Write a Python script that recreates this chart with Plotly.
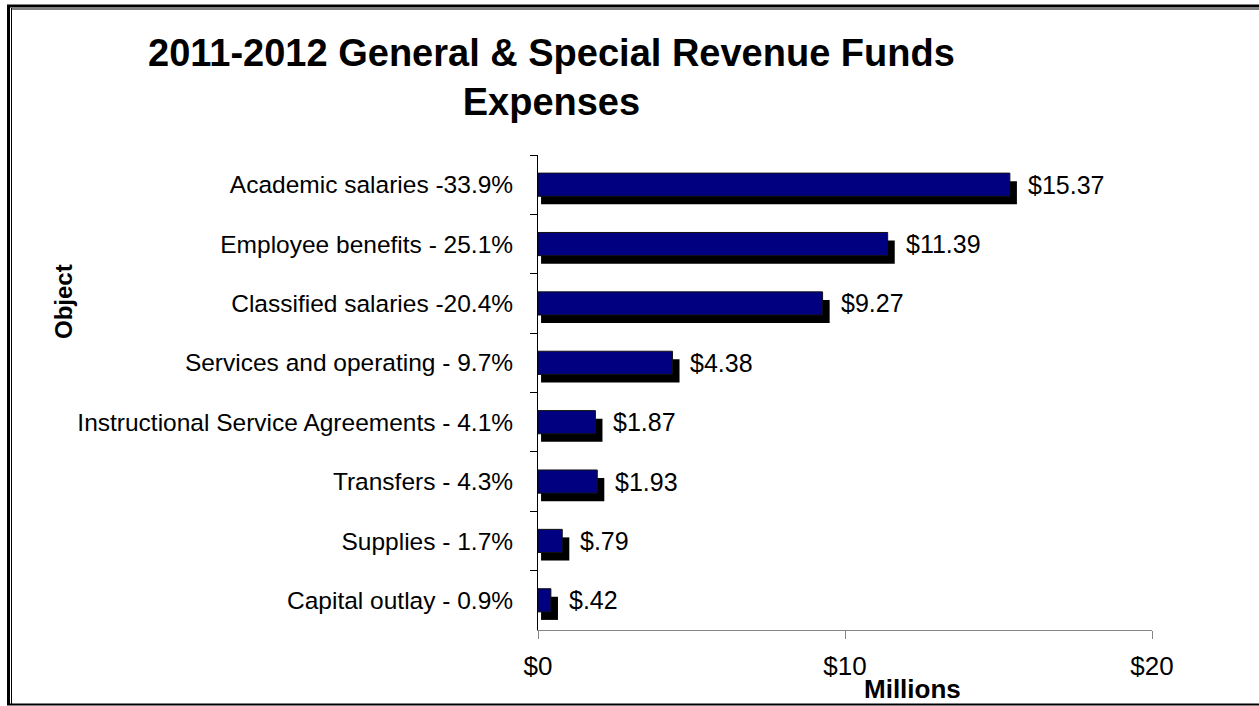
import plotly.graph_objects as go

categories = [
    "Academic salaries -33.9%",
    "Employee benefits - 25.1%",
    "Classified salaries -20.4%",
    "Services and operating - 9.7%",
    "Instructional Service Agreements - 4.1%",
    "Transfers - 4.3%",
    "Supplies - 1.7%",
    "Capital outlay - 0.9%",
]
values = [15.37, 11.39, 9.27, 4.38, 1.87, 1.93, 0.79, 0.42]
value_labels = ["$15.37", "$11.39", "$9.27", "$4.38", "$1.87", "$1.93", "$.79", "$.42"]
tick_vals = [0, 10, 20]
tick_text = ["$0", "$10", "$20"]

W, H = 1259, 706
L, R, T, B = 538, 107, 155, 76
PW, PH = W - L - R, H - T - B

def px(x):
    return (x - L) / PW

def py(y):
    return (H - B - y) / PH

FONT = "Liberation Sans, Arial, sans-serif"
BW = 0.39

fig = go.Figure()
# shadow
fig.add_trace(go.Bar(
    y=categories, x=[v + 0.13 for v in values], base=0.1, orientation="h",
    width=BW, offset=-BW / 2 + 0.135,
    marker=dict(color="black", line=dict(color="black", width=0)),
    hoverinfo="skip", showlegend=False,
))
# main bars
fig.add_trace(go.Bar(
    y=categories, x=values, orientation="h",
    width=BW, offset=-BW / 2,
    marker=dict(color="#000080", line=dict(color="#111111", width=1)),
    showlegend=False,
))

annotations = []
for c, v, t in zip(categories, values, value_labels):
    annotations.append(dict(
        x=v, y=c, xref="x", yref="y", text=t, showarrow=False,
        xanchor="left", yanchor="middle", xshift=16,
        font=dict(family=FONT, size=25, color="black"),
    ))

annotations += [
    dict(x=px(551), y=py(78), xref="paper", yref="paper",
         text="<b>2011-2012 General & Special Revenue Funds<br>Expenses</b>",
         showarrow=False, xanchor="center", yanchor="middle",
         font=dict(family=FONT, size=38, color="black")),
    dict(x=px(63), y=py(302), xref="paper", yref="paper", text="<b>Object</b>",
         textangle=-90, showarrow=False, xanchor="center", yanchor="middle",
         font=dict(family=FONT, size=24, color="black")),
    dict(x=px(912), y=py(689), xref="paper", yref="paper", text="<b>Millions</b>",
         showarrow=False, xanchor="center", yanchor="middle",
         font=dict(family=FONT, size=26, color="black")),
]

shapes = [
    # outer frame: thick + thin lines (left/top double)
    dict(type="line", xref="paper", yref="paper", x0=px(8.5), x1=px(8.5), y0=py(5), y1=py(705),
         line=dict(color="black", width=3)),
    dict(type="line", xref="paper", yref="paper", x0=px(11.5), x1=px(11.5), y0=py(8), y1=py(705),
         line=dict(color="black", width=1)),
    dict(type="line", xref="paper", yref="paper", x0=px(7), x1=px(1262), y0=py(6), y1=py(6),
         line=dict(color="black", width=3)),
    dict(type="line", xref="paper", yref="paper", x0=px(11), x1=px(1262), y0=py(9), y1=py(9),
         line=dict(color="black", width=1)),
    dict(type="line", xref="paper", yref="paper", x0=px(7), x1=px(1262), y0=py(704.5), y1=py(704.5),
         line=dict(color="black", width=2)),
]

fig.update_layout(
    width=W, height=H,
    margin=dict(l=L, r=R, t=T, b=B, pad=0),
    paper_bgcolor="white", plot_bgcolor="white",
    barmode="overlay",
    annotations=annotations,
    shapes=shapes,
    font=dict(family=FONT, color="black"),
    xaxis=dict(
        range=[0, 20], tickvals=tick_vals, ticktext=tick_text,
        showgrid=False, zeroline=False,
        showline=True, linecolor="#868686", linewidth=1,
        ticks="outside", ticklen=8, tickcolor="#868686",
        tickfont=dict(family=FONT, size=26, color="black"),
        ticklabelstandoff=5,
    ),
    yaxis=dict(
        categoryorder="array", categoryarray=categories, autorange="reversed",
        showgrid=False, zeroline=False,
        showline=True, linecolor="black", linewidth=1,
        ticks="outside", ticklen=7, tickcolor="black", tickson="boundaries",
        tickfont=dict(family=FONT, size=24.5, color="black"),
        ticklabelstandoff=19,
    ),
)

fig.write_html(
    "out.html",
    config={"displayModeBar": False},
    post_script="document.body.style.margin='0';document.body.style.overflow='hidden';",
)
